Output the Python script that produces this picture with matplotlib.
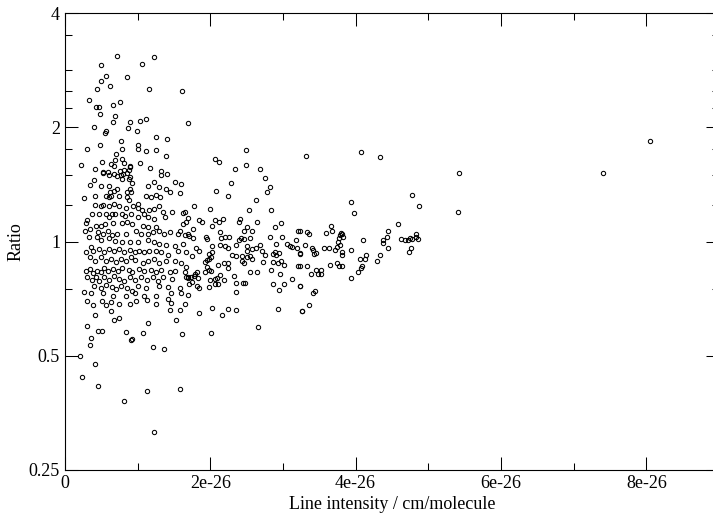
import numpy as np
import matplotlib
matplotlib.use("Agg")
import matplotlib.pyplot as plt
from matplotlib.ticker import FixedLocator, FixedFormatter, NullFormatter

# Intensity in units of 1e-26 cm/molecule, ratio (dimensionless)
region_upper_left = [
    (0.71,3.09),(0.50,2.92),(1.06,2.94),(1.23,3.06),(0.57,2.74),(0.50,2.65),(0.86,2.71),(0.62,2.57),
    (0.44,2.53),(1.16,2.52),(1.61,2.50),(0.33,2.37),(0.76,2.34),(0.66,2.29),(0.43,2.26),(0.47,2.26),
    (0.48,2.17),(0.69,2.15),(0.66,2.07),(0.90,2.07),(1.04,2.08),(1.11,2.10),(1.70,2.06),(0.40,2.00),
    (0.56,1.96),(0.55,1.93),(0.87,1.99),(0.99,1.96),(1.25,1.89),(1.40,1.86),(0.77,1.84),(0.48,1.80),
    (0.30,1.75),(1.01,1.80),(1.01,1.75),(0.79,1.75),(1.11,1.735),(1.25,1.745),(0.70,1.70),(1.39,1.68),
    (0.22,1.59),(0.51,1.62),(0.63,1.60),(0.69,1.64),(0.79,1.65),(0.82,1.61),(0.67,1.58),(0.90,1.58),
    (1.04,1.61),(1.17,1.565),(1.32,1.54),(0.41,1.55),(0.52,1.53),(0.53,1.515),(0.59,1.525),(0.68,1.51),
    (0.76,1.54),(0.82,1.545),(0.88,1.545),(0.90,1.57),(0.77,1.50),(0.61,1.495),(0.71,1.49),(0.80,1.51),
    (0.85,1.515),(0.89,1.48),(1.32,1.50),(1.41,1.505),(0.40,1.455),(0.34,1.41),(0.49,1.40),(0.61,1.40),
    (0.71,1.38),(0.79,1.46),(0.88,1.46),(0.92,1.43),(1.14,1.40),(1.22,1.44),(1.30,1.39),(1.51,1.44),
    (1.60,1.42),(0.90,1.38),(1.39,1.38),
]

region_dense = [
    (0.26,1.30),(0.42,1.32),(0.57,1.32),(0.60,1.31),(0.64,1.32),(0.62,1.35),(0.67,1.36),(0.74,1.32),
    (0.86,1.35),(0.86,1.31),(0.88,1.29),(0.91,1.35),(1.01,1.26),(1.12,1.32),(1.18,1.31),(1.26,1.33),
    (1.31,1.31),(1.44,1.35),(1.59,1.34),(0.41,1.25),(0.50,1.245),(0.53,1.25),(0.61,1.245),(0.68,1.26),
    (0.75,1.24),(0.84,1.23),(0.94,1.245),(1.00,1.23),(1.06,1.21),(1.16,1.21),(1.23,1.22),(1.30,1.24),
    (1.35,1.20),(1.48,1.20),(1.62,1.19),(0.37,1.18),(0.30,1.14),(0.29,1.12),(0.28,1.065),(0.47,1.18),
    (0.57,1.18),(0.61,1.16),(0.65,1.18),(0.69,1.18),(0.79,1.18),(0.83,1.17),(0.91,1.18),(1.00,1.16),
    (1.09,1.18),(1.14,1.16),(1.22,1.15),(1.38,1.16),(1.63,1.11),(0.43,1.10),(0.50,1.10),(0.55,1.11),
    (0.66,1.12),(0.78,1.12),(0.86,1.125),(0.93,1.11),(1.07,1.10),(1.14,1.09),(1.25,1.09),(1.30,1.07),
    (1.44,1.06),(1.58,1.07),(1.69,1.05),(0.34,1.08),(0.46,1.06),(0.52,1.05),(0.59,1.07),(0.65,1.04),
    (0.72,1.05),(0.84,1.05),(0.98,1.07),(1.05,1.05),(1.15,1.05),(1.21,1.06),(1.37,1.05),(1.55,1.05),
    (0.33,1.03),(0.44,1.03),(0.50,1.01),(0.60,1.02),(0.69,1.006),(0.79,0.996),(0.90,0.996),(1.00,0.996),
    (1.15,1.01),(1.23,0.996),(1.30,0.987),(1.39,0.98),(1.51,0.976),(1.62,0.987),(0.29,0.937),(0.36,0.966),
    (0.39,0.947),(0.47,0.956),(0.54,0.937),(0.61,0.956),(0.68,0.943),(0.74,0.956),(0.82,0.94),(0.89,0.95),
    (0.96,0.937),(1.02,0.947),(1.09,0.937),(1.16,0.947),(1.25,0.943),(1.32,0.937),(1.42,0.92),(1.55,0.947),
    (1.67,0.937),(0.34,0.91),(0.42,0.89),(0.50,0.91),(0.57,0.89),(0.63,0.90),(0.70,0.886),(0.77,0.90),
    (0.84,0.89),(0.91,0.91),(0.97,0.895),(1.07,0.88),(1.15,0.89),(1.22,0.90),(1.30,0.88),(1.39,0.89),
    (1.51,0.89),(1.60,0.88),(0.29,0.838),(0.35,0.847),(0.38,0.826),(0.44,0.838),(0.50,0.83),(0.54,0.85),
    (0.59,0.838),(0.66,0.847),(0.73,0.835),(0.79,0.85),(0.88,0.842),(0.93,0.83),(1.02,0.847),(1.09,0.838),
    (1.19,0.842),(1.25,0.83),(1.32,0.842),(1.44,0.83),(1.51,0.838),(1.65,0.83),(0.31,0.805),(0.37,0.79),
    (0.43,0.805),(0.47,0.789),(0.54,0.805),(0.61,0.79),(0.68,0.81),(0.75,0.797),(0.82,0.789),(0.89,0.805),
    (0.96,0.79),(1.05,0.805),(1.13,0.79),(1.21,0.805),(1.28,0.789),(1.35,0.805),(1.48,0.797),(1.69,0.805),
    (0.40,0.765),(0.50,0.757),(0.56,0.77),(0.65,0.76),(0.70,0.75),(0.77,0.765),(0.86,0.755),(0.92,0.742),
    (1.00,0.765),(1.12,0.757),(1.30,0.765),(1.42,0.76),(1.58,0.757),(0.26,0.735),(0.36,0.73),(0.52,0.73),
    (0.66,0.72),(0.84,0.72),(0.96,0.73),(1.09,0.72),(1.25,0.72),(1.46,0.73),(1.60,0.73),(0.31,0.699),
    (0.38,0.68),(0.51,0.696),(0.57,0.68),(0.63,0.692),(0.75,0.684),(0.89,0.686),(0.98,0.696),(1.13,0.70),
    (1.25,0.686),(1.42,0.705),(1.46,0.69),(1.65,0.686),
]

region_lower_left = [
    (0.42,0.64),(0.64,0.657),(0.74,0.63),(0.67,0.62),(1.44,0.66),(1.59,0.66),(1.53,0.62),(0.31,0.60),
    (0.46,0.58),(0.51,0.58),(1.15,0.61),(0.84,0.577),(1.07,0.575),(1.61,0.57),(0.36,0.557),(0.34,0.535),
    (0.91,0.55),(0.93,0.555),(1.21,0.528),(1.36,0.52),(0.21,0.50),(0.42,0.476),(0.23,0.44),(0.46,0.417),
    (1.13,0.403),(1.59,0.41),(0.81,0.381),(1.22,0.315),
]

region_middle = [
    (2.49,1.74),(2.07,1.65),(2.12,1.62),(2.49,1.59),(2.34,1.555),(2.69,1.55),(2.76,1.47),(2.28,1.43),
    (2.82,1.39),(2.78,1.35),(2.08,1.36),(2.24,1.32),(2.63,1.29),(1.77,1.24),(1.99,1.22),(2.53,1.21),
    (2.83,1.21),(1.65,1.195),(1.70,1.155),(1.67,1.13),(1.85,1.14),(1.88,1.13),(2.07,1.14),(2.12,1.13),
    (2.18,1.145),(2.39,1.13),(2.41,1.15),(2.64,1.125),(2.97,1.12),(2.03,1.10),(2.51,1.095),(2.89,1.09),
    (1.76,1.08),(2.46,1.065),(2.58,1.07),(3.21,1.07),(2.14,1.06),(1.65,1.04),(1.71,1.035),(1.76,1.02),
    (1.94,1.03),(1.95,1.016),(2.15,1.02),(2.20,1.03),(2.26,1.03),(2.42,1.02),(2.47,1.016),(2.54,1.025),
    (2.82,1.03),(2.99,1.03),(3.18,1.01),(2.40,1.01),(2.02,0.975),(2.14,0.98),(2.20,0.975),(2.24,0.965),
    (2.36,0.98),(2.50,0.975),(2.68,0.98),(2.90,0.985),(3.05,0.985),(3.10,0.975),(3.12,0.97),(3.20,0.96),
    (1.80,0.96),(1.84,0.947),(2.03,0.94),(2.58,0.955),(2.63,0.96),(2.71,0.947),(2.51,0.943),(2.89,0.94),
    (2.95,0.935),(3.23,0.935),(1.75,0.915),(1.98,0.93),(2.01,0.91),(2.30,0.92),(2.36,0.915),(2.44,0.915),
    (2.50,0.91),(2.55,0.915),(2.75,0.92),(2.86,0.93),(2.90,0.92),(2.97,0.89),(1.98,0.90),(1.95,0.895),
    (1.93,0.885),(2.44,0.89),(2.46,0.88),(2.57,0.90),(2.72,0.885),(2.86,0.885),(2.93,0.88),(3.02,0.87),
    (3.21,0.86),(2.11,0.87),(2.19,0.88),(2.24,0.88),(2.25,0.85),(1.95,0.855),(1.98,0.84),(1.66,0.855),
    (1.93,0.83),(2.01,0.835),(2.55,0.83),(2.65,0.83),(2.83,0.84),(2.96,0.82),(1.66,0.805),(1.69,0.80),
    (1.74,0.805),(1.77,0.81),(1.79,0.82),(1.82,0.83),(1.83,0.80),(1.75,0.785),(2.00,0.79),(2.06,0.795),
    (2.09,0.80),(2.14,0.815),(2.19,0.79),(2.33,0.81),(2.35,0.78),(2.45,0.78),(2.48,0.78),(2.07,0.775),
    (2.10,0.775),(1.71,0.775),(1.82,0.765),(1.85,0.755),(1.98,0.76),(2.87,0.775),(3.01,0.775),(3.13,0.795),
    (3.23,0.765),(2.95,0.745),(2.35,0.735),(1.70,0.725),(2.03,0.67),(2.25,0.665),(2.36,0.66),(2.16,0.64),
    (1.85,0.65),(2.93,0.665),(3.26,0.655),(2.66,0.595),(2.01,0.575),
]

region_right = [
    (3.32,1.68),(4.07,1.72),(4.34,1.67),(3.94,1.27),(3.98,1.19),(4.78,1.33),(4.87,1.24),(4.59,1.11),
    (4.45,1.065),(4.43,1.03),(4.38,1.01),(4.38,0.99),(4.45,0.96),(4.62,1.016),(4.68,1.01),(4.72,1.01),
    (4.75,1.025),(4.78,1.016),(4.83,1.05),(4.83,1.03),(4.86,1.016),(4.76,0.96),(4.73,0.94),(4.10,1.01),
    (3.94,0.95),(4.14,0.92),(4.13,0.90),(4.06,0.90),(4.34,0.92),(4.29,0.89),(4.09,0.86),(4.08,0.85),
    (4.03,0.83),(3.94,0.80),(3.78,1.04),(3.80,1.055),(3.81,1.045),(3.82,1.03),(3.77,1.025),(3.66,1.10),
    (3.68,1.065),(3.59,1.055),(3.33,1.06),(3.36,1.05),(3.23,1.07),(3.31,0.98),(3.40,0.96),(3.42,0.95),
    (3.43,0.93),(3.46,0.935),(3.56,0.96),(3.63,0.96),(3.72,0.95),(3.76,0.995),(3.78,0.98),(3.75,0.97),
    (3.81,0.94),(3.81,0.92),(3.23,0.93),(3.23,0.86),(3.33,0.865),(3.39,0.82),(3.45,0.84),(3.48,0.82),
    (3.52,0.84),(3.53,0.82),(3.65,0.87),(3.75,0.88),(3.77,0.865),(3.81,0.86),(3.23,0.765),(3.44,0.74),
    (3.42,0.73),(3.36,0.68),(3.26,0.657),
    (5.42,1.52),(5.41,1.20),(7.40,1.52),(8.05,1.84),
]

x_ticks = [0, 2e-26, 4e-26, 6e-26, 8e-26]
x_tick_labels = ["0", "2e-26", "4e-26", "6e-26", "8e-26"]
x_minor_ticks = [1e-26, 3e-26, 5e-26, 7e-26, 9e-26]
y_ticks = [0.25, 0.5, 1, 2, 4]
y_tick_labels = ["0.25", "0.5", "1", "2", "4"]
y_minor_ticks = [0.75, 1.25, 1.5, 1.75, 2.25, 2.5, 2.83, 3.5]

all_points = region_upper_left + region_dense + region_lower_left + region_middle + region_right
intensity = np.array([p[0] for p in all_points]) * 1e-26
ratio = np.array([p[1] for p in all_points])

plt.rcParams['font.family'] = ['Liberation Serif', 'DejaVu Serif']

fig = plt.figure(figsize=(7.13, 5.20), dpi=100)
ax = fig.add_axes([64.9/713, 50/520, 654.1/713, 456.7/520])

ax.plot(intensity, ratio, linestyle='none', marker='o', markersize=3.1,
        markerfacecolor='none', markeredgecolor='black', markeredgewidth=0.75)

ax.set_yscale('log', base=2)
ax.set_xlim(0, 9e-26)
ax.set_ylim(0.25, 4)

ax.xaxis.set_major_locator(FixedLocator(x_ticks))
ax.xaxis.set_major_formatter(FixedFormatter(x_tick_labels))
ax.xaxis.set_minor_locator(FixedLocator(x_minor_ticks))
ax.xaxis.set_minor_formatter(NullFormatter())
ax.yaxis.set_major_locator(FixedLocator(y_ticks))
ax.yaxis.set_major_formatter(FixedFormatter(y_tick_labels))
ax.yaxis.set_minor_locator(FixedLocator(y_minor_ticks))
ax.yaxis.set_minor_formatter(NullFormatter())

ax.tick_params(which='both', direction='in', top=True, right=True, width=0.75,
               labelsize=13, colors='black')
ax.tick_params(which='major', length=9.5, pad=3.5)
ax.tick_params(which='minor', length=5)
for s in ax.spines.values():
    s.set_linewidth(0.8)
    s.set_color('black')

ax.set_xlabel('Line intensity / cm/molecule', fontsize=13)
ax.set_ylabel('Ratio', fontsize=13)
ax.xaxis.set_label_coords(0.5, -0.058)
ax.yaxis.set_label_coords(-0.062, 0.5)

fig.savefig('out.png', dpi=100)
